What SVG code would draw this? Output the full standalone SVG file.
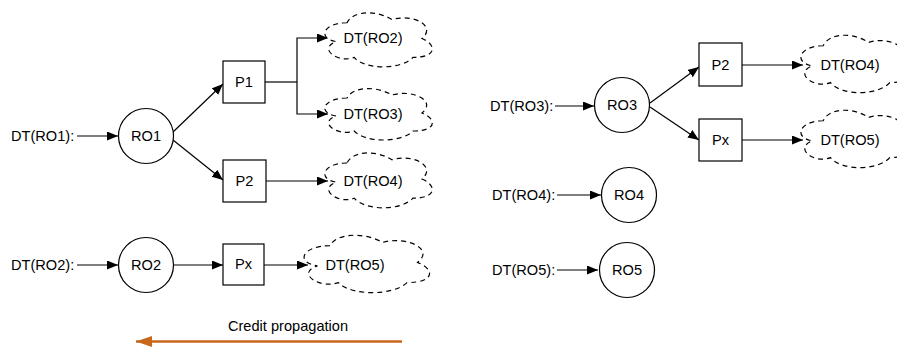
<svg xmlns="http://www.w3.org/2000/svg" width="897" height="347" viewBox="0 0 897 347">
<defs>
<style>
text{font-family:"Liberation Sans",Arial,Helvetica,sans-serif;font-size:14.6px;fill:#000}
.c{text-anchor:middle}
.n{fill:#fff;stroke:#000;stroke-width:1.2}
.cl{fill:#fff;stroke:#000;stroke-width:1.2;stroke-dasharray:5 4}
.e{fill:none;stroke:#000;stroke-width:1.2}
.ea{fill:none;stroke:#000;stroke-width:1.2;marker-end:url(#ah)}
</style>
<marker id="ah" markerUnits="userSpaceOnUse" markerWidth="12" markerHeight="10" refX="11" refY="4.5" orient="auto">
<path d="M0,0 L11,4.5 L0,9 Z" fill="#000"/>
</marker>
<marker id="oh" markerUnits="userSpaceOnUse" markerWidth="18" markerHeight="14" refX="16" refY="5.5" orient="auto">
<path d="M0,0 L16,5.5 L0,11 Z" fill="#c8661a"/>
</marker>
</defs>

<g id="connectors">
<line class="ea" x1="77" y1="136" x2="118" y2="136"/>
<line class="ea" x1="173" y1="132" x2="223" y2="84"/>
<line class="ea" x1="173" y1="140" x2="223" y2="180"/>
<polyline class="e" points="265,82 297,82"/>
<polyline class="ea" points="297,82 297,38 328,38"/>
<polyline class="ea" points="297,82 297,114 328,114"/>
<line class="ea" x1="266" y1="181" x2="328" y2="181"/>
<line class="ea" x1="77" y1="265" x2="118" y2="265"/>
<line class="ea" x1="173" y1="265" x2="223" y2="265"/>
<line class="ea" x1="264" y1="265" x2="308" y2="265"/>
<line class="ea" x1="555" y1="106" x2="594" y2="106"/>
<line class="ea" x1="650" y1="103" x2="699" y2="67"/>
<line class="ea" x1="650" y1="107" x2="699" y2="140"/>
<line class="ea" x1="742" y1="65" x2="803" y2="65"/>
<line class="ea" x1="742" y1="140" x2="803" y2="140"/>
<line class="ea" x1="557" y1="195" x2="601" y2="195"/>
<line class="ea" x1="557" y1="270" x2="598" y2="270"/>
<line x1="402" y1="341.5" x2="136" y2="341.5" stroke="#c8661a" stroke-width="2.4" marker-end="url(#oh)"/>
</g>

<g id="lbl-dt-ro1"><text x="11" y="141">DT(RO1):</text></g>
<g id="lbl-dt-ro2"><text x="11" y="270">DT(RO2):</text></g>
<g id="lbl-dt-ro3"><text x="490" y="111">DT(RO3):</text></g>
<g id="lbl-dt-ro4"><text x="492" y="200">DT(RO4):</text></g>
<g id="lbl-dt-ro5"><text x="492" y="275">DT(RO5):</text></g>

<g id="ro1"><circle class="n" cx="146" cy="136" r="27.5"/><text class="c" x="146" y="141">RO1</text></g>
<g id="ro2"><circle class="n" cx="146" cy="265" r="27.5"/><text class="c" x="146" y="270">RO2</text></g>
<g id="ro3"><circle class="n" cx="622" cy="105" r="27.5"/><text class="c" x="622" y="110">RO3</text></g>
<g id="ro4"><circle class="n" cx="629" cy="195" r="27.5"/><text class="c" x="629" y="200">RO4</text></g>
<g id="ro5"><circle class="n" cx="627" cy="270" r="27.5"/><text class="c" x="627" y="275">RO5</text></g>

<g id="p1-left"><rect class="n" x="223" y="61" width="42" height="42"/><text class="c" x="244" y="87">P1</text></g>
<g id="p2-left"><rect class="n" x="223" y="160" width="43" height="42"/><text class="c" x="244.5" y="186">P2</text></g>
<g id="px-left"><rect class="n" x="223" y="244" width="41" height="41"/><text class="c" x="243.5" y="269">Px</text></g>
<g id="p2-right"><rect class="n" x="699" y="43" width="43" height="43"/><text class="c" x="720.5" y="70">P2</text></g>
<g id="px-right"><rect class="n" x="699" y="119" width="43" height="42"/><text class="c" x="720.5" y="145">Px</text></g>

<g id="cloud-ro2-a"><path class="cl" d="M347,22.75 C323,22.75 317,38.5 336.2,41.65 C317,48.58 338.6,63.7 354.2,57.4 C365,70 401,70 413,57.4 C437,57.4 437,44.8 422,38.5 C437,25.9 413,13.3 392,19.6 C377,10.15 353,10.15 347,22.75 Z"/><text class="c" x="373" y="43">DT(RO2)</text></g>
<g id="cloud-ro3-a"><path class="cl" d="M347,98 C323,98 317,113 336.2,116 C317,122.6 338.6,137 354.2,131 C365,143 401,143 413,131 C437,131 437,119 422,113 C437,101 413,89 392,95 C377,86 353,86 347,98 Z"/><text class="c" x="373" y="119">DT(RO3)</text></g>
<g id="cloud-ro4-a"><path class="cl" d="M347,163 C323,163 317,179 336.2,182.2 C317,189.2 338.6,204.6 354.2,198.2 C365,211 401,211 413,198.2 C437,198.2 437,185.4 422,179 C437,166.2 413,153.4 392,159.8 C377,150.2 353,150.2 347,163 Z"/><text class="c" x="373" y="186">DT(RO4)</text></g>
<g id="cloud-ro5-a"><path class="cl" d="M330,245.75 C302,245.75 295,262.5 317.4,265.85 C295,273.2 320.2,289.3 338.4,282.6 C351,296 393,296 407,282.6 C435,282.6 435,269.2 417.5,262.5 C435,249.1 407,235.7 382.5,242.4 C365,232.35 337,232.35 330,245.75 Z"/><text class="c" x="355" y="270">DT(RO5)</text></g>
<g id="cloud-ro4-b"><path class="cl" d="M823.25,45.75 C799.05,45.75 793,62.5 812.36,65.85 C793,73.22 814.78,89.3 830.51,82.6 C841.4,96 877.7,96 889.8,82.6 C914,82.6 914,69.2 898.9,62.5 C914,49.1 889.8,35.7 868.6,42.4 C853.5,32.35 829.3,32.35 823.25,45.75 Z"/><text class="c" x="850" y="70">DT(RO4)</text></g>
<g id="cloud-ro5-b"><path class="cl" d="M823.25,120.75 C799.05,120.75 793,137.5 812.36,140.85 C793,148.22 814.78,164.3 830.51,157.6 C841.4,171 877.7,171 889.8,157.6 C914,157.6 914,144.2 898.9,137.5 C914,124.1 889.8,110.7 868.6,117.4 C853.5,107.35 829.3,107.35 823.25,120.75 Z"/><text class="c" x="850" y="145">DT(RO5)</text></g>

<g id="credit"><text class="c" x="288" y="331">Credit propagation</text></g>
</svg>
